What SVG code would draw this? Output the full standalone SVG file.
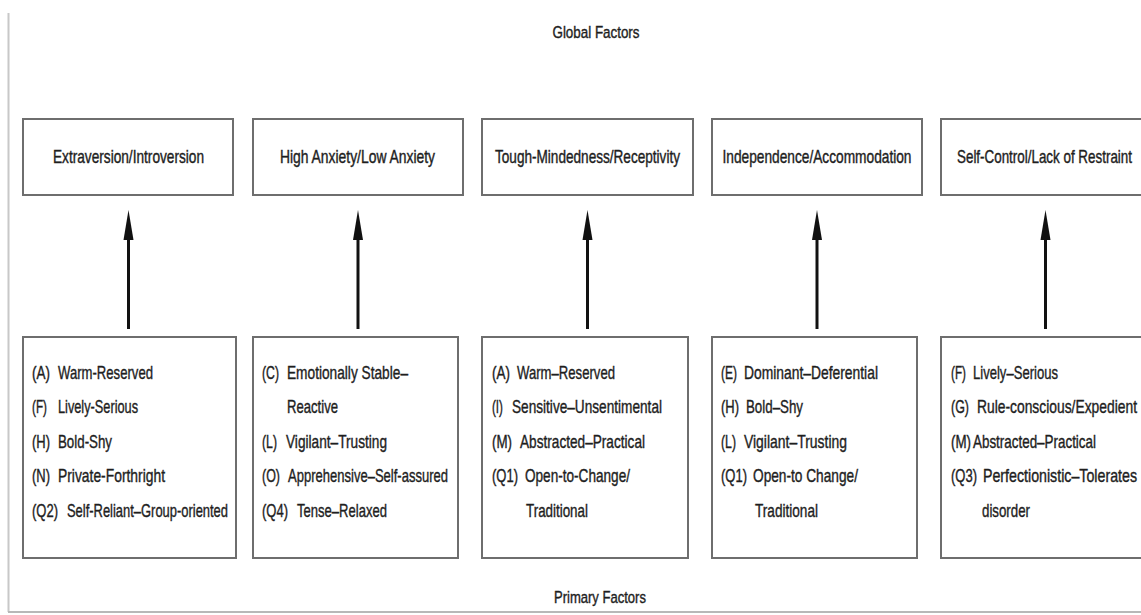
<svg xmlns="http://www.w3.org/2000/svg" width="1141" height="615" viewBox="0 0 1141 615">
<style>
.box{fill:#fff;stroke:#6e6e6e;stroke-width:2}
.t{font-family:"Liberation Sans",Arial,sans-serif;font-size:19px;fill:#1e1e1e;stroke:#1e1e1e;stroke-width:0.4px}
.h{font-family:"Liberation Sans",Arial,sans-serif;font-size:18px;fill:#1e1e1e;stroke:#1e1e1e;stroke-width:0.4px;text-anchor:middle}
.c{font-family:"Liberation Sans",Arial,sans-serif;font-size:17px;fill:#1e1e1e;stroke:#1e1e1e;stroke-width:0.4px;text-anchor:middle}
</style>
<rect width="1141" height="615" fill="#fff"/>
<line x1="8.5" y1="13" x2="8.5" y2="612" stroke="#c8c8c8" stroke-width="2"/>
<line x1="8" y1="612" x2="1141" y2="612" stroke="#b8b8b8" stroke-width="2"/>

<g id="g1"><rect class="box" x="23" y="119" width="210" height="76"/></g>
<g id="g2"><rect class="box" x="253" y="119" width="210" height="76"/></g>
<g id="g3"><rect class="box" x="482" y="119" width="211" height="76"/></g>
<g id="g4"><rect class="box" x="712" y="119" width="210" height="76"/></g>
<g id="g5"><rect class="box" x="941" y="119" width="212" height="76"/></g>
<g id="p1"><rect class="box" x="23" y="337" width="213" height="221"/></g>
<g id="p2"><rect class="box" x="253" y="337" width="205" height="221"/></g>
<g id="p3"><rect class="box" x="482" y="337" width="206" height="221"/></g>
<g id="p4"><rect class="box" x="712" y="337" width="205" height="221"/></g>
<g id="p5"><rect class="box" x="941" y="337" width="212" height="221"/></g>

<g id="labels" transform="scale(0.7 1)">
<text class="c" x="851.43" y="38" textLength="124.29" lengthAdjust="spacingAndGlyphs">Global Factors</text>
<text class="c" x="857.14" y="603" textLength="131.43" lengthAdjust="spacingAndGlyphs">Primary Factors</text>

<text class="h" x="183.57" y="163" textLength="215.71" lengthAdjust="spacingAndGlyphs">Extraversion/Introversion</text>
<text class="h" x="510.71" y="163" textLength="221.43" lengthAdjust="spacingAndGlyphs">High Anxiety/Low Anxiety</text>
<text class="h" x="839.29" y="163" textLength="264.29" lengthAdjust="spacingAndGlyphs">Tough-Mindedness/Receptivity</text>
<text class="h" x="1167.14" y="163" textLength="270" lengthAdjust="spacingAndGlyphs">Independence/Accommodation</text>
<text class="h" x="1492.14" y="163" textLength="250" lengthAdjust="spacingAndGlyphs">Self-Control/Lack of Restraint</text>

<text class="t" x="45.71" y="379" textLength="25.71" lengthAdjust="spacingAndGlyphs">(A)</text><text class="t" x="82.86" y="379" textLength="135.71" lengthAdjust="spacingAndGlyphs">Warm-Reserved</text>
<text class="t" x="45.71" y="413.5" textLength="21.43" lengthAdjust="spacingAndGlyphs">(F)</text><text class="t" x="82.86" y="413.5" textLength="114.29" lengthAdjust="spacingAndGlyphs">Lively-Serious</text>
<text class="t" x="45.71" y="448" textLength="25.71" lengthAdjust="spacingAndGlyphs">(H)</text><text class="t" x="82.86" y="448" textLength="77.14" lengthAdjust="spacingAndGlyphs">Bold-Shy</text>
<text class="t" x="45.71" y="482.5" textLength="25.71" lengthAdjust="spacingAndGlyphs">(N)</text><text class="t" x="82.86" y="482.5" textLength="152.86" lengthAdjust="spacingAndGlyphs">Private-Forthright</text>
<text class="t" x="45.71" y="517" textLength="37.14" lengthAdjust="spacingAndGlyphs">(Q2)</text><text class="t" x="95.71" y="517" textLength="230" lengthAdjust="spacingAndGlyphs">Self-Reliant–Group-oriented</text>

<text class="t" x="374.29" y="379" textLength="24.29" lengthAdjust="spacingAndGlyphs">(C)</text><text class="t" x="410" y="379" textLength="172.86" lengthAdjust="spacingAndGlyphs">Emotionally Stable–</text>
<text class="t" x="410" y="413.5" textLength="72.86" lengthAdjust="spacingAndGlyphs">Reactive</text>
<text class="t" x="374.29" y="448" textLength="21.43" lengthAdjust="spacingAndGlyphs">(L)</text><text class="t" x="408.57" y="448" textLength="144.29" lengthAdjust="spacingAndGlyphs">Vigilant–Trusting</text>
<text class="t" x="374.29" y="482.5" textLength="25.71" lengthAdjust="spacingAndGlyphs">(O)</text><text class="t" x="411.43" y="482.5" textLength="228.57" lengthAdjust="spacingAndGlyphs">Apprehensive–Self-assured</text>
<text class="t" x="374.29" y="517" textLength="37.14" lengthAdjust="spacingAndGlyphs">(Q4)</text><text class="t" x="424.29" y="517" textLength="128.57" lengthAdjust="spacingAndGlyphs">Tense–Relaxed</text>

<text class="t" x="702.86" y="379" textLength="25.71" lengthAdjust="spacingAndGlyphs">(A)</text><text class="t" x="738.57" y="379" textLength="140" lengthAdjust="spacingAndGlyphs">Warm–Reserved</text>
<text class="t" x="702.86" y="413.5" textLength="15.71" lengthAdjust="spacingAndGlyphs">(I)</text><text class="t" x="731.43" y="413.5" textLength="214.29" lengthAdjust="spacingAndGlyphs">Sensitive–Unsentimental</text>
<text class="t" x="702.86" y="448" textLength="28.57" lengthAdjust="spacingAndGlyphs">(M)</text><text class="t" x="742.86" y="448" textLength="178.57" lengthAdjust="spacingAndGlyphs">Abstracted–Practical</text>
<text class="t" x="702.86" y="482.5" textLength="37.14" lengthAdjust="spacingAndGlyphs">(Q1)</text><text class="t" x="750" y="482.5" textLength="150" lengthAdjust="spacingAndGlyphs">Open-to-Change/</text>
<text class="t" x="751.43" y="517" textLength="88.57" lengthAdjust="spacingAndGlyphs">Traditional</text>

<text class="t" x="1030" y="379" textLength="22.86" lengthAdjust="spacingAndGlyphs">(E)</text><text class="t" x="1062.86" y="379" textLength="191.43" lengthAdjust="spacingAndGlyphs">Dominant–Deferential</text>
<text class="t" x="1030" y="413.5" textLength="25.71" lengthAdjust="spacingAndGlyphs">(H)</text><text class="t" x="1065.71" y="413.5" textLength="81.43" lengthAdjust="spacingAndGlyphs">Bold–Shy</text>
<text class="t" x="1030" y="448" textLength="21.43" lengthAdjust="spacingAndGlyphs">(L)</text><text class="t" x="1062.86" y="448" textLength="147.14" lengthAdjust="spacingAndGlyphs">Vigilant–Trusting</text>
<text class="t" x="1030" y="482.5" textLength="37.14" lengthAdjust="spacingAndGlyphs">(Q1)</text><text class="t" x="1075.71" y="482.5" textLength="150" lengthAdjust="spacingAndGlyphs">Open-to Change/</text>
<text class="t" x="1078.57" y="517" textLength="90" lengthAdjust="spacingAndGlyphs">Traditional</text>

<text class="t" x="1358.57" y="379" textLength="21.43" lengthAdjust="spacingAndGlyphs">(F)</text><text class="t" x="1390" y="379" textLength="121.43" lengthAdjust="spacingAndGlyphs">Lively–Serious</text>
<text class="t" x="1358.57" y="413.5" textLength="25.71" lengthAdjust="spacingAndGlyphs">(G)</text><text class="t" x="1395.71" y="413.5" textLength="228.57" lengthAdjust="spacingAndGlyphs">Rule-conscious/Expedient</text>
<text class="t" x="1358.57" y="448" textLength="28.57" lengthAdjust="spacingAndGlyphs">(M)</text><text class="t" x="1390" y="448" textLength="175.71" lengthAdjust="spacingAndGlyphs">Abstracted–Practical</text>
<text class="t" x="1358.57" y="482.5" textLength="37.14" lengthAdjust="spacingAndGlyphs">(Q3)</text><text class="t" x="1404.29" y="482.5" textLength="220" lengthAdjust="spacingAndGlyphs">Perfectionistic–Tolerates</text>
<text class="t" x="1402.86" y="517" textLength="68.57" lengthAdjust="spacingAndGlyphs">disorder</text>
</g>

<g id="connectors" fill="#111" stroke="#111">
<line x1="128.5" y1="329" x2="128.5" y2="236" stroke-width="3"/><path d="M128.5,210 L123.5,240 L133.5,240 Z" stroke="none"/>
<line x1="358" y1="329" x2="358" y2="236" stroke-width="3"/><path d="M358,210 L353,240 L363,240 Z" stroke="none"/>
<line x1="587.5" y1="329" x2="587.5" y2="236" stroke-width="3"/><path d="M587.5,210 L582.5,240 L592.5,240 Z" stroke="none"/>
<line x1="817" y1="329" x2="817" y2="236" stroke-width="3"/><path d="M817,210 L812,240 L822,240 Z" stroke="none"/>
<line x1="1045.5" y1="329" x2="1045.5" y2="236" stroke-width="3"/><path d="M1045.5,210 L1040.5,240 L1050.5,240 Z" stroke="none"/>
</g>
</svg>
